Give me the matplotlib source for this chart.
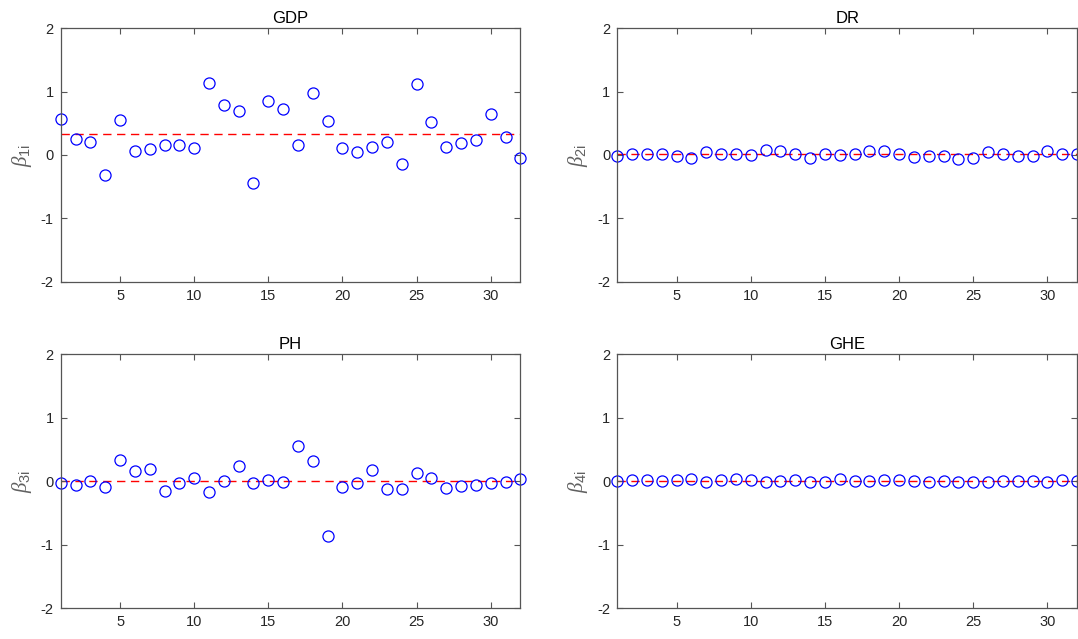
import numpy as np
import matplotlib
matplotlib.use("Agg")
import matplotlib.pyplot as plt

plt.rcParams['font.family'] = ['Liberation Sans', 'DejaVu Sans']
plt.rcParams['axes.unicode_minus'] = False
plt.rcParams['mathtext.fontset'] = 'custom'
plt.rcParams['mathtext.it'] = 'Liberation Serif:italic'
plt.rcParams['mathtext.rm'] = 'Liberation Sans'
plt.rcParams['mathtext.sf'] = 'Liberation Sans'

# regions 1..32
idx = np.arange(1, 33)

# estimated coefficients per region
gdp = [0.57, 0.25, 0.21, -0.32, 0.55, 0.07, 0.09, 0.16, 0.16, 0.105,
       1.13, 0.79, 0.70, -0.44, 0.85, 0.73, 0.15, 0.98, 0.54, 0.11,
       0.04, 0.13, 0.20, -0.15, 1.12, 0.52, 0.12, 0.19, 0.23, 0.64,
       0.29, -0.05]
dr = [-0.01, 0.015, 0.01, 0.015, -0.01, -0.04, 0.05, 0.01, 0.01, 0.005,
      0.08, 0.07, 0.015, -0.05, 0.02, 0.0, 0.015, 0.07, 0.06, 0.02,
      -0.03, -0.015, -0.015, -0.07, -0.04, 0.05, 0.015, -0.015, -0.015, 0.06,
      0.02, 0.015]
ph = [-0.03, -0.05, 0.0, -0.09, 0.34, 0.17, 0.20, -0.16, -0.02, 0.05,
      -0.17, 0.005, 0.24, -0.02, 0.015, -0.015, 0.56, 0.32, -0.86, -0.09,
      -0.02, 0.18, -0.115, -0.12, 0.125, 0.05, -0.10, -0.07, -0.065, -0.02,
      -0.015, 0.03]
ghe = [0.0, 0.015, 0.015, 0.01, 0.02, 0.04, -0.005, 0.015, 0.03, 0.025,
       -0.005, 0.01, 0.015, -0.005, -0.005, 0.03, 0.005, 0.01, 0.025, 0.025,
       0.0, -0.005, 0.01, -0.005, -0.005, -0.01, 0.0, 0.0, 0.0, -0.01,
       0.015, 0.0]

titles = ['GDP', 'DR', 'PH', 'GHE']
series = [gdp, dr, ph, ghe]
ylabels = [r'$\beta_{\mathrm{1i}}$', r'$\beta_{\mathrm{2i}}$',
           r'$\beta_{\mathrm{3i}}$', r'$\beta_{\mathrm{4i}}$']

fig = plt.figure(figsize=(10.78, 6.39), dpi=100)
# axes boxes [left, bottom, width, height] in figure fractions
boxes = [[0.0563, 0.5592, 0.4265, 0.3965],
         [0.5726, 0.5592, 0.4265, 0.3965],
         [0.0563, 0.0480, 0.4265, 0.3975],
         [0.5726, 0.0480, 0.4265, 0.3975]]

ink = '#262626'
for box, t, vals, yl in zip(boxes, titles, series, ylabels):
    ax = fig.add_axes(box)
    vals = np.array(vals)
    ax.plot(idx, np.full(len(idx), vals.mean()), '--', color='red', lw=1.0,
            dashes=(6, 4), zorder=1)
    ax.plot(idx, vals, 'o', mfc='none', mec='blue', ms=8, mew=0.9, zorder=2,
            clip_on=False)
    ax.set_xlim(1, 32)
    ax.set_ylim(-2, 2)
    ax.set_xticks([5, 10, 15, 20, 25, 30])
    ax.set_yticks([-2, -1, 0, 1, 2])
    ax.tick_params(direction='in', top=True, right=True, length=4, width=0.8,
                   colors='#555555', labelcolor=ink, labelsize=10.5, pad=5)
    for s in ax.spines.values():
        s.set_color('#555555')
        s.set_linewidth(0.9)
    ax.set_title(t, fontsize=12, color='black', pad=4)
    ax.set_ylabel(yl, fontsize=15, color='#606060', labelpad=5)

fig.savefig('out.png', dpi=100)
